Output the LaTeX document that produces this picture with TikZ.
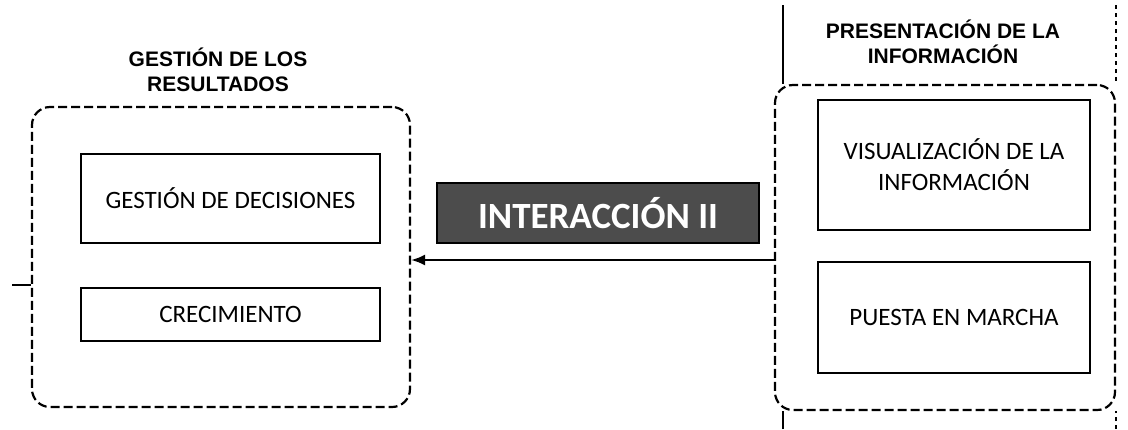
\documentclass[tikz,border=0pt]{standalone}
\usepackage{fontspec}
\setmainfont{Carlito}
\newfontfamily\titlefont{Liberation Sans}
\usetikzlibrary{arrows.meta,positioning,patterns}

\begin{document}
\begin{tikzpicture}[x=1pt,y=-1pt,
    grupo/.style={draw,dash pattern=on 9pt off 4pt,line width=2.2pt,rounded corners=18pt,inner sep=0pt},
    caja/.style={draw,line width=2.8pt,inner sep=0pt,align=center,font=\fontsize{25}{31}\selectfont},
    titulo/.style={align=center,font=\titlefont\bfseries\fontsize{21}{25}\selectfont}]
  \useasboundingbox (0,0) rectangle (1128,429);

  % bloque izquierdo
  \node[grupo,minimum width=378pt,minimum height=300pt] (izq) at (221,257) {};
  \node[titulo] (tizq) at (218,70) {GESTIÓN DE LOS\\RESULTADOS};
  \node[caja,minimum width=299pt,minimum height=89pt] (dec) at (230.5,198.5) {GESTIÓN DE DECISIONES};
  \node[caja,minimum width=299pt,minimum height=53pt] (cre) at (230.5,314.5) {CRECIMIENTO};

  % bloque derecho
  \node[grupo,minimum width=340pt,minimum height=325pt] (der) at (945,247.5) {};
  \node[titulo] (tder) at (943,42) {PRESENTACIÓN DE LA\\INFORMACIÓN};
  \node[caja,minimum width=272pt,minimum height=130pt] (vis) at (954,165) {VISUALIZACIÓN DE LA\\INFORMACIÓN};
  \node[caja,minimum width=272pt,minimum height=111pt] (pue) at (954,317.5) {PUESTA EN MARCHA};

  % etiqueta central
  \node[fill=black!70,draw=black,line width=1.5pt,minimum width=322pt,minimum height=60pt,text=white,
        font=\bfseries\fontsize{37}{40}\selectfont] (inter) at (598,213) {INTERACCIÓN II};

  % conectores
  \coordinate (flecha) at (600,260);
  \draw[line width=2pt,-{Latex[length=14pt,width=11pt]}] (der.west |- flecha) -- (izq.east |- flecha);
  \coordinate (entrada) at (12,285);
  \draw[line width=2.2pt] (entrada) -- (izq.west |- entrada);
  \coordinate (sup) at (783,5);
  \coordinate (inf) at (783,429);
  \draw[line width=2.6pt] (sup) -- (sup |- der.north);
  \draw[line width=2.6pt] (inf) -- (inf |- der.south);
  \coordinate (bordesup) at (1116,5);
  \coordinate (bordeinf) at (1116,429);
  \draw[dash pattern=on 4pt off 4pt,line width=1.6pt] (bordesup) -- (bordesup |- der.north);
  \draw[dash pattern=on 4pt off 4pt,line width=1.6pt] (bordeinf) -- (bordeinf |- der.south);
\end{tikzpicture}
\end{document}
